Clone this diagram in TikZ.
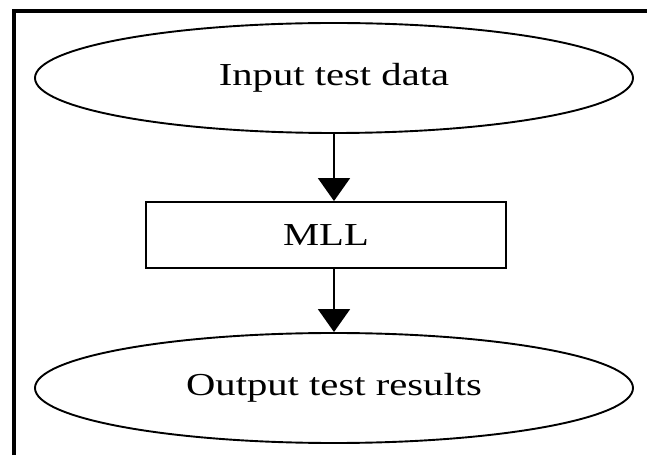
\documentclass[tikz,border=0pt]{standalone}
\usepackage{fontspec}
\setmainfont{Liberation Serif}
\usetikzlibrary{shapes.geometric,arrows.meta}

\newcommand{\widetext}[1]{\scalebox{1.27}[1]{#1}}

\begin{document}
\begin{tikzpicture}[x=1pt,y=1pt]
\tikzset {every node/.style={font=\fontsize{32}{36}\selectfont},
          terminal/.style={ellipse,draw,line width=1.9pt,minimum width=598pt,minimum height=110pt,inner sep=0pt},
          process/.style={rectangle,draw,line width=1.9pt,minimum width=360pt,minimum height=66pt,inner sep=0pt},
          flow/.style={line width=1.9pt,-{Triangle[length=23pt,width=32pt]}}}
\useasboundingbox (0,0) rectangle (647,455);
% frame, cut by the page
\draw[line width=4pt] (13.7,0) -- (13.7,443.5) -- (647,443.5);
\node[terminal] (input) at (334,377) {\widetext{Input test data}};
\node[process] (mll) at (326,220) {\widetext{MLL}};
\node[terminal] (output) at (334,67) {\widetext{Output test results}};
\draw[flow] (input.south) -- (input.south |- mll.north);
\draw[flow] (mll.south -| output.north) -- (output.north);
\end{tikzpicture}
\end{document}
